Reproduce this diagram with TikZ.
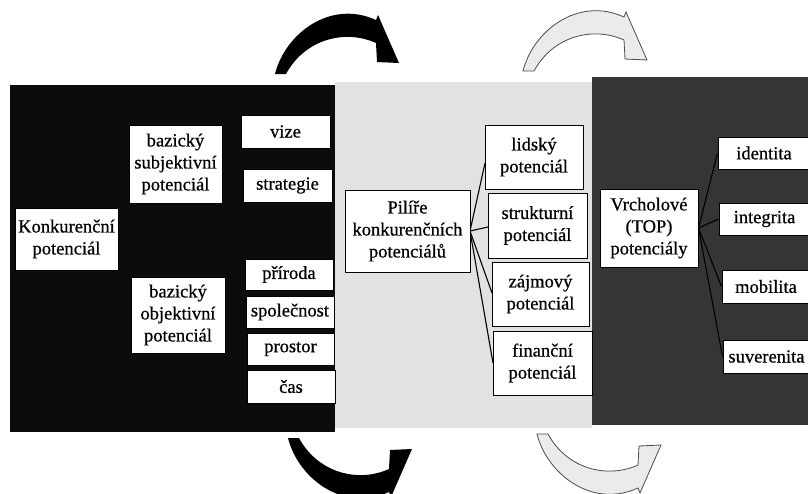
\documentclass[tikz,border=0pt]{standalone}
\usepackage{fontspec}
\setmainfont{Liberation Serif}[FakeBold=0.6]
\definecolor{panelblack}{HTML}{0C0C0C}
\definecolor{panellight}{HTML}{E2E2E2}
\definecolor{paneldark}{HTML}{353535}
\definecolor{arrowlight}{HTML}{EBEBEB}
\begin{document}
\begin{tikzpicture}[x=1pt,y=-1pt,
  box/.style={draw=black, line width=1pt, fill=white, align=center,
    inner sep=0pt, font=\fontsize{18.5}{22}\selectfont},
  conn/.style={draw=black, line width=1.1pt},
  darkarrow/.style={fill=black},
  lightarrow/.style={fill=arrowlight, draw=black!70, line width=0.8pt},
  curvedarrow/.pic={
    \path[pic actions] (0,0) .. controls (10,-40) and (55,-75) .. (101,-54)
      -- (103,-59) -- (124,-11) -- (102,-12) -- (101,-31)
      .. controls (70,-45) and (30,-35) .. (11,0) -- cycle;
  }]
\useasboundingbox (0,0) rectangle (808,493);
\clip (0,0) rectangle (808,493);

% three background panels
\fill[panelblack] (10,85) rectangle (335,432);
\fill[panellight] (335,82) rectangle (592,428);
\fill[paneldark] (592,77) rectangle (808,425);

% curved arrows above and below the panels
\pic[darkarrow] at (275,74) {curvedarrow};
\pic[lightarrow] at (523,71) {curvedarrow};
\pic[darkarrow, yscale=-1] at (288,438) {curvedarrow};
\pic[lightarrow, yscale=-1] at (537,434) {curvedarrow};

% left panel
\node[box, minimum width=103, minimum height=62] (konk) at (66.5,239) {Konkurenční\\potenciál};
\node[box, minimum width=93, minimum height=78] (bsub) at (175.5,164) {bazický\\subjektivní\\potenciál};
\node[box, minimum width=89, minimum height=33] (vize) at (285.5,131.5) {vize};
\node[box, minimum width=89, minimum height=33] (strat) at (287.5,185.5) {strategie};
\node[box, minimum width=94, minimum height=76] (bobj) at (178,315) {bazický\\objektivní\\potenciál};
\node[box, minimum width=88, minimum height=31] (prir) at (289,274.5) {příroda};
\node[box, minimum width=88, minimum height=32] (spol) at (290,312) {společnost};
\node[box, minimum width=87, minimum height=32] (pros) at (290.5,349) {prostor};
\node[box, minimum width=88, minimum height=33] (cas) at (291,386.5) {čas};

% middle panel
\coordinate (pilE) at (470,231);
\draw[conn] (pilE) -- (485,163);
\draw[conn] (pilE) -- (488,227);
\draw[conn] (pilE) -- (492,293);
\draw[conn] (pilE) -- (493,363);
\node[box, minimum width=125, minimum height=82] (pil) at (407.5,231) {Pilíře\\konkurenčních\\potenciálů};
\node[box, minimum width=98, minimum height=64] (lid) at (534,157) {lidský\\potenciál};
\node[box, minimum width=99, minimum height=65] (struk) at (537.5,225.5) {strukturní\\potenciál};
\node[box, minimum width=97, minimum height=64] (zaj) at (540.5,294) {zájmový\\potenciál};
\node[box, minimum width=99, minimum height=64] (fin) at (542.5,363) {finanční\\potenciál};

% right panel
\node[box, minimum width=98, minimum height=78] (vrch) at (649,228) {Vrcholové\\(TOP)\\potenciály};
\node[box, minimum width=92, minimum height=32] (iden) at (764,153) {identita};
\node[box, minimum width=91, minimum height=32] (integ) at (764.5,219) {integrita};
\node[box, minimum width=88, minimum height=33] (mob) at (766,286.5) {mobilita};
\node[box, minimum width=87, minimum height=33] (suv) at (766.5,356.5) {suverenita};
\draw[conn] (vrch.east) -- (iden.west);
\draw[conn] (vrch.east) -- (integ.west);
\draw[conn] (vrch.east) -- (mob.west);
\draw[conn] (vrch.east) -- (suv.west);
\end{tikzpicture}
\end{document}
